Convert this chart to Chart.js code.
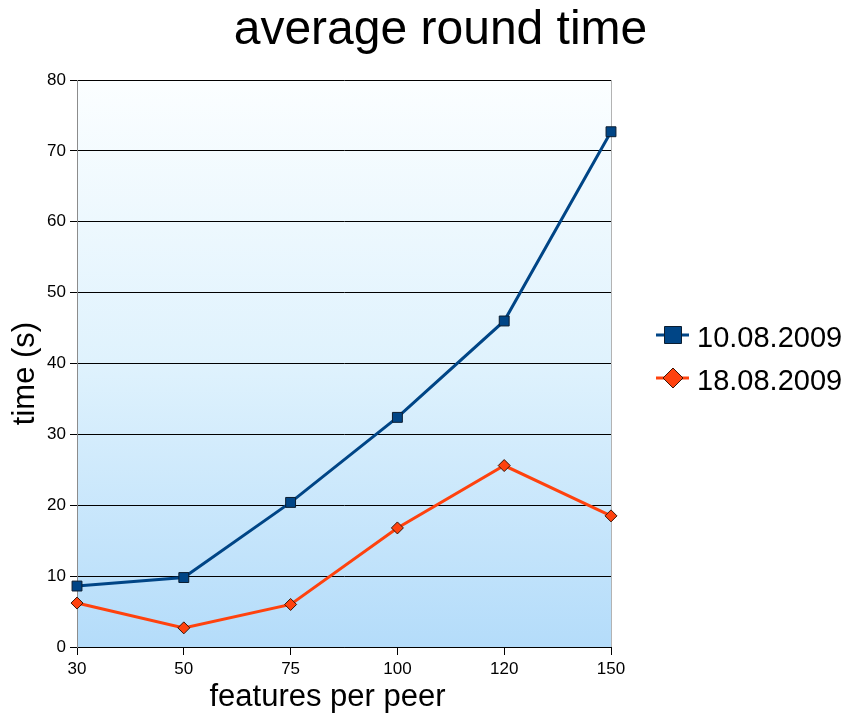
<!DOCTYPE html>
<html>
<head>
<meta charset="utf-8">
<script src="https://cdn.jsdelivr.net/npm/chart.js@4/dist/chart.umd.min.js"></script>
<style>
  html, body { margin: 0; padding: 0; background: #ffffff; }
  #wrap { width: 846px; height: 717px; }
</style>
</head>
<body>
<div id="wrap"><canvas id="c" width="846" height="717"></canvas></div>
<script>
// Measurements: average round time per run, by number of features per peer
const featuresPerPeer = ['30', '50', '75', '100', '120', '150'];
const run20090810 = [8.6, 9.8, 20.4, 32.4, 46.0, 72.7];
const run20090818 = [6.2, 2.7, 6.0, 16.8, 25.6, 18.5];
const seriesNames = ['10.08.2009', '18.08.2009'];
const chartTitle = 'average round time';
const xAxisTitle = 'features per peer';
const yAxisTitle = 'time (s)';
const timeTicks = { min: 0, max: 80, step: 10 };

const FONT = '"Liberation Sans", Arial, sans-serif';
const BLUE = '#004586';
const ORANGE = '#ff420e';

Chart.defaults.font.family = FONT;
Chart.defaults.color = '#000';

// Soft blue gradient behind the plot area
const plotBackground = {
  id: 'plotBackground',
  beforeDraw(chart) {
    const { ctx, chartArea: a } = chart;
    const g = ctx.createLinearGradient(0, a.top, 0, a.bottom);
    g.addColorStop(0, '#fbfeff');
    g.addColorStop(0.5, '#dff2fd');
    g.addColorStop(1, '#b4dcfa');
    ctx.save();
    ctx.fillStyle = g;
    ctx.fillRect(a.left, a.top, a.right - a.left, a.bottom - a.top);
    ctx.restore();
  }
};

// Title, axis titles and the legend on the right
const annotations = {
  id: 'annotations',
  afterDraw(chart) {
    const ctx = chart.ctx;
    ctx.save();
    ctx.fillStyle = '#000';

    ctx.font = '48px ' + FONT;
    ctx.textAlign = 'center';
    ctx.textBaseline = 'alphabetic';
    ctx.fillText(chartTitle, 440.5, 44);

    ctx.font = '31px ' + FONT;
    ctx.fillText(xAxisTitle, 327.5, 706);

    ctx.save();
    ctx.translate(34, 373.5);
    ctx.rotate(-Math.PI / 2);
    ctx.fillText(yAxisTitle, 0, 0);
    ctx.restore();

    // legend entries
    const rows = [
      { y: 335, base: 347, ds: chart.data.datasets[0], shape: 'square' },
      { y: 378, base: 390, ds: chart.data.datasets[1], shape: 'diamond' }
    ];
    rows.forEach(r => {
      ctx.strokeStyle = r.ds.borderColor;
      ctx.lineWidth = 3;
      ctx.beginPath();
      ctx.moveTo(656, r.y);
      ctx.lineTo(689, r.y);
      ctx.stroke();

      ctx.fillStyle = r.ds.pointBackgroundColor;
      ctx.strokeStyle = r.ds.pointBorderColor;
      ctx.lineWidth = 1;
      ctx.beginPath();
      if (r.shape === 'square') {
        ctx.rect(664.5, r.y - 8.5, 17, 17);
      } else {
        ctx.moveTo(673, r.y - 10);
        ctx.lineTo(683, r.y);
        ctx.lineTo(673, r.y + 10);
        ctx.lineTo(663, r.y);
        ctx.closePath();
      }
      ctx.fill();
      ctx.stroke();

      ctx.fillStyle = '#000';
      ctx.font = '29px ' + FONT;
      ctx.textAlign = 'left';
      ctx.fillText(r.ds.label, 697, r.base);
    });
    ctx.restore();
  }
};

new Chart(document.getElementById('c'), {
  type: 'line',
  data: {
    labels: featuresPerPeer,
    datasets: [
      {
        label: seriesNames[0],
        data: run20090810,
        borderColor: BLUE,
        backgroundColor: BLUE,
        borderWidth: 3,
        tension: 0,
        fill: false,
        pointStyle: 'rect',
        pointRadius: 7,
        pointHoverRadius: 7,
        pointBackgroundColor: BLUE,
        pointBorderColor: '#0b1d30',
        pointBorderWidth: 1
      },
      {
        label: seriesNames[1],
        data: run20090818,
        borderColor: ORANGE,
        backgroundColor: ORANGE,
        borderWidth: 3,
        tension: 0,
        fill: false,
        pointStyle: 'rectRot',
        pointRadius: 6,
        pointHoverRadius: 6,
        pointBackgroundColor: ORANGE,
        pointBorderColor: '#3a1608',
        pointBorderWidth: 1
      }
    ]
  },
  options: {
    responsive: false,
    animation: false,
    devicePixelRatio: 1,
    layout: { padding: { top: 80, right: 235, bottom: 0, left: 0 } },
    plugins: {
      legend: { display: false },
      title: { display: false },
      tooltip: { enabled: false }
    },
    scales: {
      x: {
        type: 'category',
        offset: false,
        ticks: {
          color: '#000',
          font: { size: 17 },
          padding: 4,
          maxRotation: 0,
          autoSkip: false
        },
        grid: {
          color: (c) => c.index === featuresPerPeer.length - 1 ? '#b3b3b3' : 'rgba(0,0,0,0)',
          tickColor: '#000',
          tickLength: 8,
          lineWidth: 1
        },
        border: { color: '#000', width: 1 },
        afterFit(scale) { scale.height = 70; }
      },
      y: {
        min: timeTicks.min,
        max: timeTicks.max,
        ticks: {
          stepSize: timeTicks.step,
          color: '#000',
          font: { size: 17 },
          padding: 4
        },
        grid: {
          color: '#000',
          tickColor: '#000',
          tickLength: 7,
          lineWidth: 1
        },
        border: { color: '#8c8c8c', width: 1 },
        afterFit(scale) { scale.width = 77; }
      }
    }
  },
  plugins: [plotBackground, annotations]
});
</script>
</body>
</html>
